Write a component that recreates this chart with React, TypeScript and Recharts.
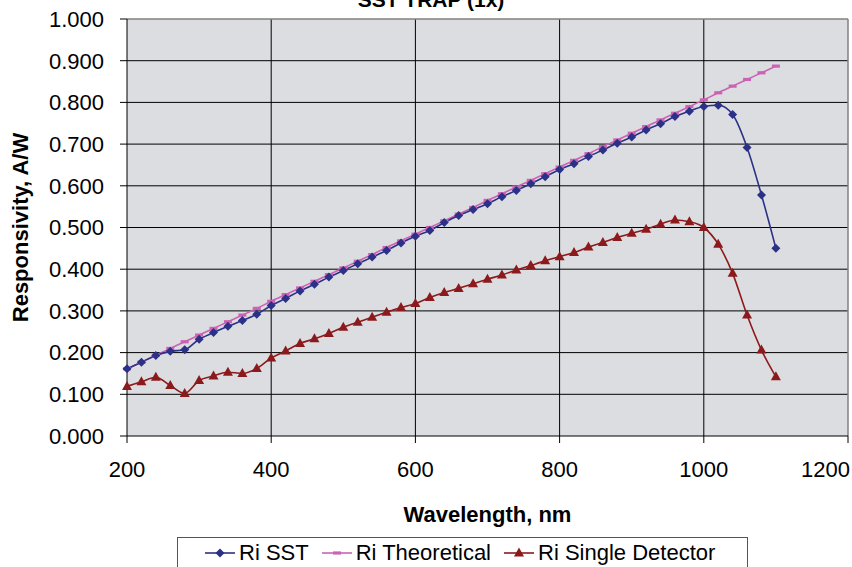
import React from "react";
import {
  LineChart,
  Line,
  XAxis,
  YAxis,
  CartesianGrid,
  Legend,
  ReferenceLine,
} from "recharts";

// wavelength, nm
const wavelengths = [
  200, 220, 240, 260, 280, 300, 320, 340, 360, 380, 400, 420, 440, 460, 480,
  500, 520, 540, 560, 580, 600, 620, 640, 660, 680, 700, 720, 740, 760, 780,
  800, 820, 840, 860, 880, 900, 920, 940, 960, 980, 1000, 1020, 1040, 1060,
  1080, 1100,
];

// responsivity, A/W
const riSST = [
  0.161, 0.177, 0.193, 0.203, 0.207, 0.232, 0.248, 0.263, 0.277, 0.292, 0.313,
  0.33, 0.348, 0.364, 0.381, 0.397, 0.413, 0.429, 0.445, 0.463, 0.479, 0.493,
  0.512, 0.529, 0.543, 0.557, 0.574, 0.589, 0.605, 0.622, 0.639, 0.653, 0.67,
  0.686, 0.702, 0.717, 0.734, 0.749, 0.766, 0.779, 0.79, 0.793, 0.771, 0.692,
  0.578, 0.45,
];

const riTheoretical = [
  0.161, 0.177, 0.194, 0.21, 0.226, 0.242, 0.258, 0.274, 0.29, 0.306, 0.323,
  0.339, 0.355, 0.371, 0.387, 0.403, 0.419, 0.435, 0.452, 0.468, 0.484, 0.5,
  0.516, 0.532, 0.548, 0.565, 0.581, 0.597, 0.613, 0.629, 0.645, 0.661, 0.677,
  0.694, 0.71, 0.726, 0.742, 0.758, 0.774, 0.79, 0.806, 0.823, 0.839, 0.855,
  0.871, 0.887,
];

const riSingle = [
  0.119, 0.13, 0.141, 0.121, 0.102, 0.133, 0.144, 0.153, 0.15, 0.162, 0.187,
  0.204, 0.222, 0.233, 0.246, 0.261, 0.273, 0.285, 0.297, 0.308, 0.318, 0.332,
  0.344, 0.354, 0.365, 0.376, 0.386, 0.398, 0.409, 0.42, 0.43, 0.44, 0.453,
  0.464, 0.476, 0.486, 0.496, 0.508, 0.518, 0.514, 0.5, 0.46, 0.39, 0.29,
  0.206, 0.142,
];

const xTicks = [200, 400, 600, 800, 1000, 1200];
const yTicks = [0, 0.1, 0.2, 0.3, 0.4, 0.5, 0.6, 0.7, 0.8, 0.9, 1];

const data = wavelengths.map((w, i) => ({
  w,
  sst: riSST[i],
  theo: riTheoretical[i],
  single: riSingle[i],
}));

const C_SST = "#2B3187";
const C_THEO = "#CC62B4";
const C_SINGLE = "#8C1A1C";
const FONT = "'Liberation Sans', Arial, sans-serif";
const FS = 22;

function Diamond(props: any) {
  const { cx, cy, index } = props;
  if (cx == null || cy == null) return <g key={index} />;
  const r = 4.5;
  return (
    <path
      key={index}
      d={`M${cx},${cy - r}L${cx + r},${cy}L${cx},${cy + r}L${cx - r},${cy}Z`}
      fill={C_SST}
    />
  );
}

function Dash(props: any) {
  const { cx, cy, index } = props;
  if (cx == null || cy == null) return <g key={index} />;
  return <rect key={index} x={cx - 4} y={cy - 1.6} width={8} height={3.2} fill={C_THEO} />;
}

function Tri(props: any) {
  const { cx, cy, index } = props;
  if (cx == null || cy == null) return <g key={index} />;
  return (
    <path
      key={index}
      d={`M${cx},${cy - 5.5}L${cx + 5},${cy + 3.5}L${cx - 5},${cy + 3.5}Z`}
      fill={C_SINGLE}
    />
  );
}

// last x label is pulled inside the picture, like the original
function XTick(props: any) {
  const { x, y, payload } = props;
  const last = payload.value === xTicks[xTicks.length - 1];
  return (
    <text
      x={last ? x + 2 : x}
      y={y}
      dy="0.71em"
      textAnchor={last ? "end" : "middle"}
      fontFamily={FONT}
      fontSize={FS}
      fill="#000"
    >
      {payload.value}
    </text>
  );
}

function LegendIcon({ kind }: { kind: string }) {
  const color = kind === "sst" ? C_SST : kind === "theo" ? C_THEO : C_SINGLE;
  return (
    <svg width={30} height={14} style={{ display: "block" }}>
      <line x1={0} y1={7} x2={30} y2={7} stroke={color} strokeWidth={1.6} />
      {kind === "sst" && <path d="M15,2.5L19.5,7L15,11.5L10.5,7Z" fill={color} />}
      {kind === "theo" && <rect x={11} y={5.4} width={8} height={3.2} fill={color} />}
      {kind === "single" && <path d="M15,1.5L20,10.5L10,10.5Z" fill={color} />}
    </svg>
  );
}

function ChartLegend() {
  const items = [
    { kind: "sst", label: "Ri SST" },
    { kind: "theo", label: "Ri Theoretical" },
    { kind: "single", label: "Ri Single Detector" },
  ];
  return (
    <div
      style={{
        border: "1px solid #555",
        height: 40,
        boxSizing: "border-box",
        display: "flex",
        alignItems: "flex-start",
        paddingLeft: 27,
        paddingTop: 2,
        fontFamily: FONT,
        fontSize: FS,
        color: "#000",
        lineHeight: "26px",
      }}
    >
      {items.map((it) => (
        <div
          key={it.kind}
          style={{ display: "flex", alignItems: "center", marginRight: 13 }}
        >
          <LegendIcon kind={it.kind} />
          <span style={{ marginLeft: 4, whiteSpace: "nowrap" }}>{it.label}</span>
        </div>
      ))}
    </div>
  );
}

export default function App() {
  return (
    <div
      style={{
        position: "absolute",
        left: 0,
        top: 0,
        width: 852,
        height: 567,
        background: "#fff",
        overflow: "hidden",
      }}
    >
      <LineChart
        width={852}
        height={567}
        data={data}
        margin={{ top: 19, right: 4, left: 0, bottom: 0 }}
        style={{ fontFamily: FONT }}
      >
        <text
          x={431}
          y={7}
          textAnchor="middle"
          fontFamily={FONT}
          fontWeight="bold"
          fontSize={21}
          fill="#000"
        >
          SST TRAP (1x)
        </text>
        <CartesianGrid
          fill="#DCDDE0"
          stroke="#000"
          strokeOpacity={1}
          horizontalValues={[0.1, 0.2, 0.3, 0.4, 0.5, 0.6, 0.7, 0.8, 0.9]}
          verticalValues={[400, 600, 800, 1000]}
        />
        <ReferenceLine y={1} stroke="#808080" strokeWidth={1.5} />
        <ReferenceLine x={1200} stroke="#808080" strokeWidth={1.5} />
        <XAxis
          dataKey="w"
          type="number"
          domain={[200, 1200]}
          ticks={xTicks}
          interval={0}
          height={131}
          tickSize={7}
          tickMargin={18}
          axisLine={{ stroke: "#000" }}
          tickLine={{ stroke: "#000" }}
          tick={<XTick />}
          label={{
            content: (p: any) => {
              const vb = p.viewBox || {};
              return (
                <text
                  x={vb.x + vb.width / 2}
                  y={522}
                  textAnchor="middle"
                  fontFamily={FONT}
                  fontWeight="bold"
                  fontSize={FS}
                  fill="#000"
                >
                  Wavelength, nm
                </text>
              );
            },
          }}
        />
        <YAxis
          type="number"
          domain={[0, 1]}
          ticks={yTicks}
          interval={0}
          width={127}
          tickSize={7}
          tickMargin={16}
          tickFormatter={(v: number) => v.toFixed(3)}
          axisLine={{ stroke: "#000" }}
          tickLine={{ stroke: "#000" }}
          tick={{ fontSize: FS, fill: "#000", fontFamily: FONT }}
          label={{
            content: (p: any) => {
              const vb = p.viewBox || {};
              const cy = vb.y + vb.height / 2;
              return (
                <text
                  x={28}
                  y={cy}
                  transform={`rotate(-90, 28, ${cy})`}
                  textAnchor="middle"
                  fontFamily={FONT}
                  fontWeight="bold"
                  fontSize={FS}
                  fill="#000"
                >
                  Responsivity, A/W
                </text>
              );
            },
          }}
        />
        <Legend
          verticalAlign="middle"
          align="center"
          layout="horizontal"
          wrapperStyle={{ top: 537, left: 177, width: 571 }}
          content={() => <ChartLegend />}
        />
        <Line
          dataKey="theo"
          type="monotone"
          stroke={C_THEO}
          strokeWidth={1.6}
          dot={Dash}
          activeDot={false}
          isAnimationActive={false}
        />
        <Line
          dataKey="sst"
          type="monotone"
          stroke={C_SST}
          strokeWidth={1.6}
          dot={Diamond}
          activeDot={false}
          isAnimationActive={false}
        />
        <Line
          dataKey="single"
          type="monotone"
          stroke={C_SINGLE}
          strokeWidth={1.6}
          dot={Tri}
          activeDot={false}
          isAnimationActive={false}
        />
      </LineChart>
    </div>
  );
}
